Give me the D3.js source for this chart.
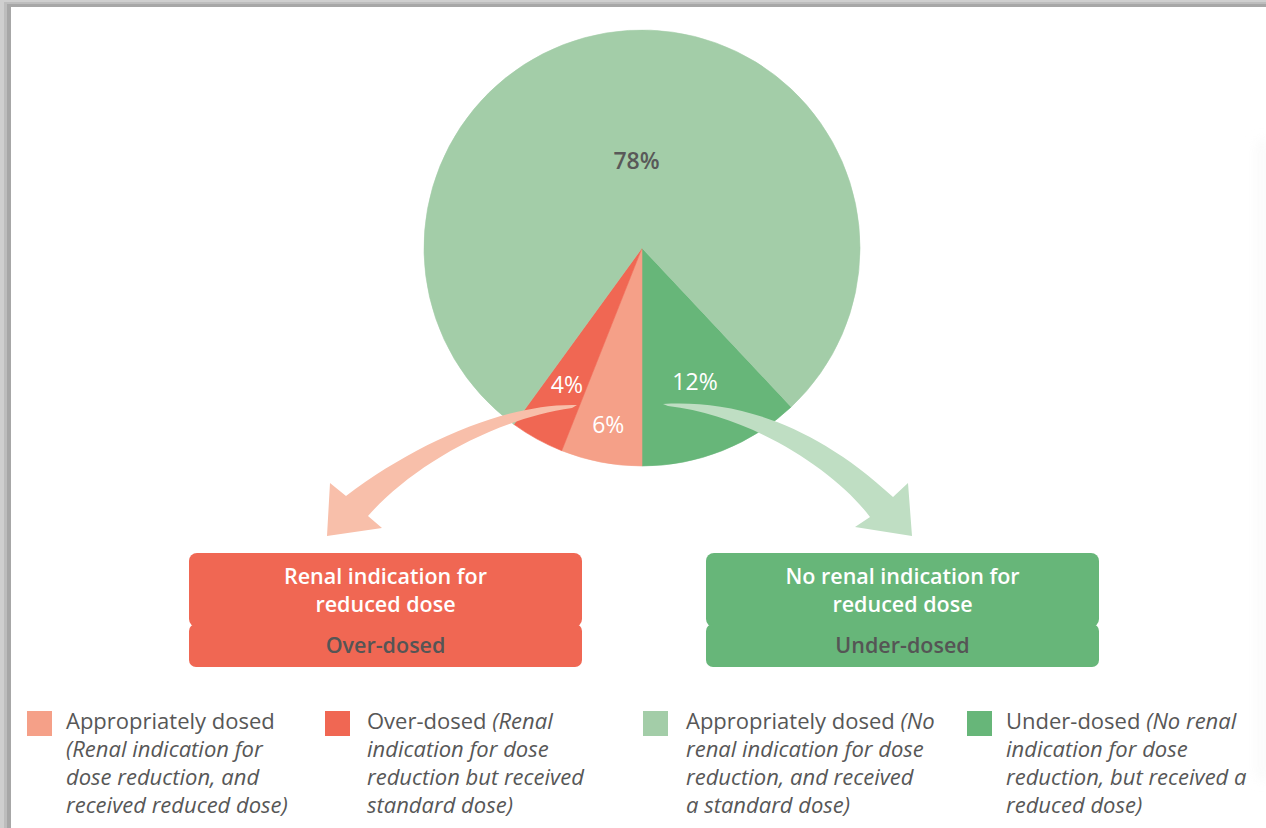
<!DOCTYPE html>
<html>
<head>
<meta charset="utf-8">
<script src="https://cdn.jsdelivr.net/npm/d3@7"></script>
<style>
  body { margin: 0; background: #fff; }
  svg { display: block; font-family: "Open Sans", "Noto Sans", sans-serif; }
</style>
</head>
<body>
<svg id="chart" width="1266" height="828"></svg>
<script>
// Dosing categories and their share of patients (%)
const categories = [
  "Appropriately dosed (renal indication)",
  "Over-dosed",
  "Appropriately dosed (no renal indication)",
  "Under-dosed"
];
const shares = [6, 4, 78, 12];
const shareLabels = ["6%", "4%", "78%", "12%"];
const colors = ["#f5a088", "#f06753", "#a3cda8", "#67b679"];
// Slice order around the pie, starting with the under-dosed wedge
const sliceOrder = [3, 0, 1, 2];

// Legend wording: plain title followed by an italic note
const legendTitles = ["Appropriately dosed", "Over-dosed ", "Appropriately dosed ", "Under-dosed "];
const legendNotes = [
  ["", "(Renal indication for", "dose reduction, and", "received reduced dose)"],
  ["(Renal", "indication for dose", "reduction but received", "standard dose)"],
  ["(No", "renal indication for dose", "reduction, and received", "a standard dose)"],
  ["(No renal", "indication for dose", "reduction, but received a", "reduced dose)"]
];

// Outcome boxes
const boxHeadings = [["Renal indication for", "reduced dose"], ["No renal indication for", "reduced dose"]];
const boxOutcomes = ["Over-dosed", "Under-dosed"];
const boxColors = ["#f06753", "#67b679"];
const arrowColors = ["#f8bfaa", "#bfdec3"];

const svg = d3.select("#chart");
const W = 1266, H = 828;

// Page frame with a soft grey edge
const defs = svg.append("defs");
const edge = defs.append("linearGradient").attr("id", "rightEdge").attr("x1", 0).attr("x2", 1);
edge.append("stop").attr("offset", 0).attr("stop-color", "#fff").attr("stop-opacity", 0);
edge.append("stop").attr("offset", 1).attr("stop-color", "#ececec").attr("stop-opacity", 1);
const soft = defs.append("filter").attr("id", "soft").attr("x", -1).attr("y", -0.2).attr("width", 3).attr("height", 1.4);
soft.append("feGaussianBlur").attr("stdDeviation", 6);

svg.append("rect").attr("width", W).attr("height", H).attr("fill", "#cfcfcf");
svg.append("rect").attr("x", 4).attr("y", 2).attr("width", W).attr("height", H).attr("fill", "#bdbdbd");
svg.append("rect").attr("x", 7).attr("y", 4).attr("width", W).attr("height", H).attr("fill", "#a7a7a7");
svg.append("rect").attr("x", 11).attr("y", 7).attr("width", W).attr("height", H).attr("fill", "#fff");
svg.append("rect").attr("x", 1252).attr("y", 140).attr("width", 14).attr("height", 640)
  .attr("fill", "url(#rightEdge)").attr("filter", "url(#soft)").attr("opacity", 0.7);

// Pie
const cx = 642, cy = 248, R = 218;
const start = Math.PI - 2 * Math.PI * shares[3] / 100;
const pie = d3.pie().sort(null).value(i => shares[i])
  .startAngle(start).endAngle(start + 2 * Math.PI);
const arcs = pie(sliceOrder);
const arc = d3.arc().innerRadius(0).outerRadius(R);

const g = svg.append("g").attr("transform", `translate(${cx},${cy})`);
g.selectAll("path.slice").data(arcs).join("path")
  .attr("class", "slice")
  .attr("d", arc)
  .attr("fill", d => colors[d.data])
  .attr("stroke", d => colors[d.data])
  .attr("stroke-width", 0.6);

// Curved arrows from the small wedges down to the outcome boxes
function leftArrow() {
  const p = d3.path();
  p.moveTo(577, 405);
  p.bezierCurveTo(510, 403, 420, 440, 346, 496);
  p.lineTo(330, 483);
  p.lineTo(327, 536);
  p.lineTo(382, 528);
  p.lineTo(368, 516);
  p.bezierCurveTo(410, 468, 490, 420, 572, 408);
  p.closePath();
  return p.toString();
}
function rightArrow() {
  const p = d3.path();
  p.moveTo(663, 404);
  p.bezierCurveTo(730, 400, 810, 420, 893, 497);
  p.lineTo(908, 483);
  p.lineTo(912, 536);
  p.lineTo(855, 527);
  p.lineTo(870, 517);
  p.bezierCurveTo(835, 470, 750, 415, 668, 406);
  p.closePath();
  return p.toString();
}
svg.append("path").attr("d", leftArrow()).attr("fill", arrowColors[0]);
svg.append("path").attr("d", rightArrow()).attr("fill", arrowColors[1]);

// Slice labels
const labelRadius = [180, 156, 87, 144];
g.selectAll("text.pct").data(arcs).join("text")
  .attr("class", "pct")
  .attr("transform", d => {
    const r = labelRadius[d.data];
    const c = d3.arc().innerRadius(r).outerRadius(r).centroid(d);
    return `translate(${c[0]},${c[1]})`;
  })
  .attr("text-anchor", "middle")
  .attr("dy", "0.36em")
  .attr("font-size", 23)
  .attr("font-weight", d => d.data === 2 ? 600 : 400)
  .attr("fill", d => d.data === 2 ? "#595959" : "#fff")
  .text(d => shareLabels[d.data]);

// Outcome boxes
const boxX = [189, 706], boxW = 393;
boxX.forEach((x, i) => {
  const b = svg.append("g");
  b.append("rect").attr("x", x).attr("y", 553).attr("width", boxW).attr("height", 74)
    .attr("rx", 8).attr("fill", boxColors[i]);
  b.append("rect").attr("x", x).attr("y", 624).attr("width", boxW).attr("height", 43)
    .attr("rx", 7).attr("fill", boxColors[i]);
  const mid = x + boxW / 2;
  boxHeadings[i].forEach((t, k) => {
    b.append("text").attr("x", mid).attr("y", 584 + k * 28)
      .attr("text-anchor", "middle").attr("font-size", 21.5).attr("font-weight", 600)
      .attr("fill", "#fff").text(t);
  });
  b.append("text").attr("x", mid).attr("y", 653)
    .attr("text-anchor", "middle").attr("font-size", 21.5).attr("font-weight", 600)
    .attr("fill", "#555").text(boxOutcomes[i]);
});

// Legend
const legX = [27, 325, 643, 967];
const legTextX = [66, 367, 686, 1006];
categories.forEach((c, i) => {
  const lg = svg.append("g");
  lg.append("rect").attr("x", legX[i]).attr("y", 711).attr("width", 25).attr("height", 25)
    .attr("fill", colors[i]);
  legendNotes[i].forEach((note, k) => {
    const t = lg.append("text").attr("x", legTextX[i]).attr("y", 729 + k * 28)
      .attr("font-size", 22).attr("fill", "#575757");
    if (k === 0) t.append("tspan").text(legendTitles[i]);
    if (note) t.append("tspan").attr("font-style", "italic").text(note);
  });
});
</script>
</body>
</html>
